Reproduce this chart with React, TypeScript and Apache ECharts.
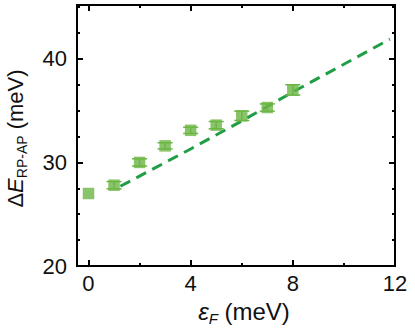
import React, { useEffect, useRef } from "react";
import * as echarts from "echarts";

const xValues = [0, 1, 2, 3, 4, 5, 6, 7, 8];
const yValues = [27.0, 27.8, 30.0, 31.6, 33.1, 33.6, 34.5, 35.3, 37.0];
const yErrors = [0.0, 0.35, 0.35, 0.3, 0.3, 0.35, 0.45, 0.35, 0.5];
const fitLine: [number, number][] = [
  [1.25, 27.7],
  [4, 31.3],
  [6, 34.0],
  [8, 36.8],
  [11.8, 41.9],
];
const xMajorTicks = [0, 4, 8, 12];
const xMinorTicks = [2, 6, 10];
const yMajorTicks = [20, 30, 40];
const yMinorTicks = [22.5, 25, 27.5, 32.5, 35, 37.5, 42.5, 45];

const FONT = "Liberation Sans, Arial, sans-serif";
const SQ = "#6cb545";
const LINE = "#1f9e45";

export default function App() {
  const ref = useRef<HTMLDivElement>(null);
  useEffect(() => {
    const chart = echarts.init(ref.current!, null, { renderer: "svg" });
    const xMin = -0.45, xMax = 12, yMin = 20, yMax = 45.2;
    const mkX = (pos: string, ticks: number[], len: number, labels: boolean, name?: boolean) => ({
      type: "value",
      position: pos,
      min: xMin,
      max: xMax,
      splitLine: { show: false },
      axisLine: { show: true, onZero: false, lineStyle: { color: "#000", width: 2 } },
      axisTick: { show: true, inside: true, length: len, customValues: ticks, lineStyle: { color: "#000", width: 2 } },
      axisLabel: labels
        ? { show: true, customValues: ticks, fontFamily: FONT, fontSize: 22, color: "#111", margin: 6 }
        : { show: false },
      ...(name
        ? {
            name: "{it|ε}{sub|F}{n| (meV)}",
            nameLocation: "middle",
            nameGap: 31,
            nameTextStyle: {
              padding: [0, 0, 0, 16],
              rich: {
                it: { fontFamily: FONT, fontSize: 24, fontStyle: "italic", color: "#111" },
                sub: { fontFamily: FONT, fontSize: 15, fontStyle: "italic", color: "#111", padding: [14, 0, 0, 0] },
                n: { fontFamily: FONT, fontSize: 24, color: "#111" },
              },
            },
          }
        : {}),
    });
    const mkY = (pos: string, ticks: number[], len: number, labels: boolean, name?: boolean) => ({
      type: "value",
      position: pos,
      min: yMin,
      max: yMax,
      splitLine: { show: false },
      axisLine: { show: true, onZero: false, lineStyle: { color: "#000", width: 2 } },
      axisTick: { show: true, inside: true, length: len, customValues: ticks, lineStyle: { color: "#000", width: 2 } },
      axisLabel: labels
        ? { show: true, customValues: ticks, fontFamily: FONT, fontSize: 22, color: "#111", margin: 10 }
        : { show: false },
      ...(name
        ? {
            name: "{n|Δ}{it|E}{sub|RP-AP}{n| (meV)}",
            nameLocation: "middle",
            nameGap: 48,
            nameTextStyle: {
              padding: [0, 6, 0, 0],
              rich: {
                it: { fontFamily: FONT, fontSize: 22, fontStyle: "italic", color: "#111" },
                sub: { fontFamily: FONT, fontSize: 14, color: "#111", padding: [13, 0, 0, 0] },
                n: { fontFamily: FONT, fontSize: 22, color: "#111" },
              },
            },
          }
        : {}),
    });
    const errData = xValues.map((x, i) => [x, yValues[i] - yErrors[i], yValues[i] + yErrors[i]]);
    chart.setOption({
      animation: false,
      backgroundColor: "#fff",
      grid: { left: 77, right: 20, top: 5, bottom: 63, containLabel: false, outerBoundsMode: "none" },
      xAxis: [
        mkX("bottom", xMajorTicks, 6, true, true),
        mkX("bottom", xMinorTicks, 3, false),
        mkX("top", xMajorTicks, 6, false),
        mkX("top", xMinorTicks, 3, false),
      ],
      yAxis: [
        mkY("left", yMajorTicks, 6, true, true),
        mkY("left", yMinorTicks, 3, false),
        mkY("right", yMajorTicks, 6, false),
        mkY("right", yMinorTicks, 3, false),
      ],
      series: [
        {
          type: "line",
          data: fitLine,
          symbol: "none",
          xAxisIndex: 0,
          yAxisIndex: 0,
          lineStyle: { color: LINE, width: 3, type: [11, 7] },
          z: 3,
        },
        {
          type: "custom",
          data: errData,
          xAxisIndex: 0,
          yAxisIndex: 0,
          z: 4,
          renderItem: (params: any, api: any) => {
            const x = api.value(0);
            const lo = api.coord([x, api.value(1)]);
            const hi = api.coord([x, api.value(2)]);
            if (Math.abs(lo[1] - hi[1]) < 1) return { type: "group", children: [] };
            const hw = 7.5;
            const st = { stroke: SQ, lineWidth: 1.5 };
            return {
              type: "group",
              children: [
                { type: "line", shape: { x1: lo[0], y1: lo[1], x2: hi[0], y2: hi[1] }, style: st },
                { type: "line", shape: { x1: lo[0] - hw, y1: lo[1], x2: lo[0] + hw, y2: lo[1] }, style: st },
                { type: "line", shape: { x1: hi[0] - hw, y1: hi[1], x2: hi[0] + hw, y2: hi[1] }, style: st },
              ],
            };
          },
        },
        {
          type: "scatter",
          data: xValues.map((x, i) => [x, yValues[i]]),
          xAxisIndex: 0,
          yAxisIndex: 0,
          symbol: "rect",
          symbolSize: 11.5,
          itemStyle: { color: SQ },
          z: 5,
        },
      ],
    });
    return () => chart.dispose();
  }, []);
  return <div ref={ref} style={{ width: 415, height: 329, position: "absolute", left: 0, top: 0 }} />;
}
